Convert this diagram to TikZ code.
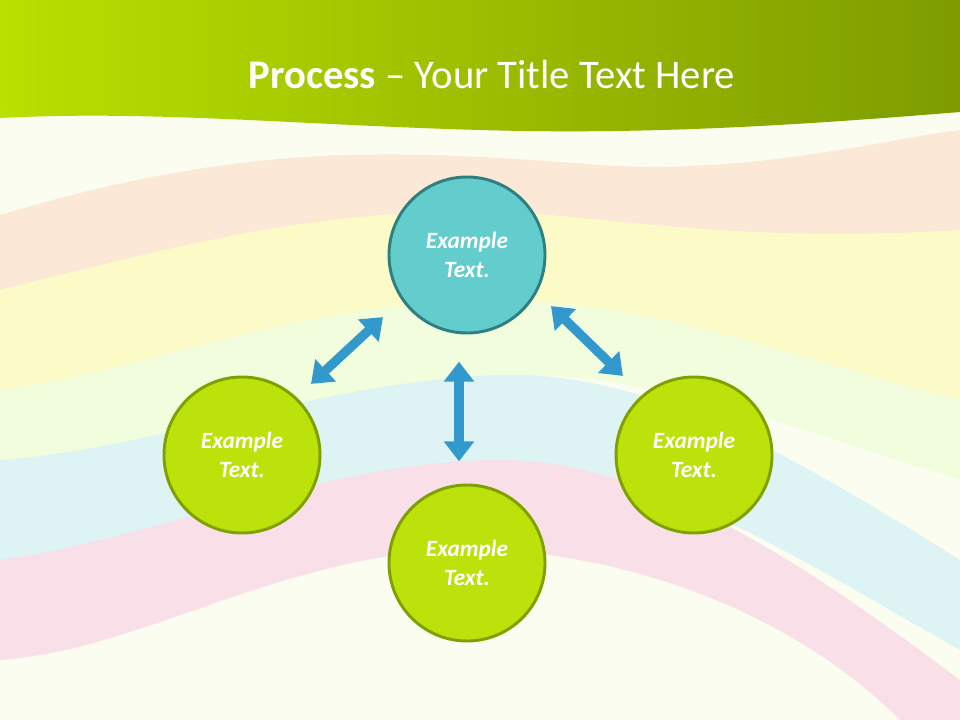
\documentclass[tikz,border=0pt]{standalone}
\usepackage{fontspec}
\setmainfont{Carlito}
\usetikzlibrary{arrows.meta}
\definecolor{bgc}{HTML}{FAFDF0}
\definecolor{gA}{HTML}{B8E000}
\definecolor{gB}{HTML}{7E9C00}
\definecolor{teal1}{HTML}{63CCCC}
\definecolor{teal2}{HTML}{2E7F80}
\definecolor{lime1}{HTML}{BBE20A}
\definecolor{lime2}{HTML}{7FA000}
\definecolor{arr}{HTML}{3399CC}
\begin{document}
\begin{tikzpicture}[x=0.75pt,y=-0.75pt,
  circ/.style={circle,minimum size=156*0.75pt,inner sep=0pt,line width=2.2pt,align=center,text=white,font=\fontsize{17.5}{22}\selectfont\bfseries\itshape},
  tealc/.style={circ,fill=teal1,draw=teal2},
  limec/.style={circ,fill=lime1,draw=lime2},
  dbl/.style={arr,line width=7pt,{Triangle[width=22pt,length=15pt]}-{Triangle[width=22pt,length=15pt]},shorten <=-1pt,shorten >=-1pt}]
\useasboundingbox (0,0) rectangle (960,720);
\fill[bgc] (0,0) rectangle (960,720);
% pastel bands
\fill[red!40!orange!30,opacity=0.4] (0,215) .. controls (250,140) and (400,150) .. (600,165) .. controls (750,175) and (880,140) .. (960,130) -- (960,230) .. controls (800,240) and (700,230) .. (550,215) .. controls (350,200) and (200,240) .. (0,290) -- cycle;
\fill[yellow!45,opacity=0.4] (0,290) .. controls (200,240) and (350,200) .. (550,215) .. controls (700,230) and (800,240) .. (960,230) -- (960,400) .. controls (800,360) and (650,300) .. (500,300) .. controls (300,300) and (150,370) .. (0,390) -- cycle;
\fill[green!40!yellow!25,opacity=0.4] (0,390) .. controls (150,370) and (300,300) .. (500,300) .. controls (650,300) and (800,360) .. (960,400) -- (960,480) .. controls (800,430) and (650,370) .. (500,375) .. controls (330,380) and (150,450) .. (0,460) -- cycle;
\fill[cyan!30,opacity=0.4] (0,460) .. controls (150,450) and (330,380) .. (500,375) .. controls (650,370) and (800,460) .. (960,560) -- (960,650) .. controls (800,560) and (650,460) .. (500,460) .. controls (330,460) and (150,540) .. (0,560) -- cycle;
\fill[magenta!30,opacity=0.4] (0,560) .. controls (150,540) and (330,460) .. (500,460) .. controls (650,460) and (800,560) .. (960,680) -- (960,720) -- (900,720) .. controls (800,620) and (650,560) .. (500,550) .. controls (300,540) and (150,650) .. (0,660) -- cycle;
% banner
\shade[left color=gA,right color=gB] (0,0) -- (960,0) -- (960,112) .. controls (800,125) and (650,135) .. (480,130) .. controls (300,125) and (150,110) .. (0,118) -- cycle;
\node[text=white,font=\fontsize{30.5}{36}\selectfont] (title) at (492,75) {\textbf{Process} – Your Title Text Here};
% circles
\node[tealc] (top) at (467,255) {Example\\Text.};
\node[limec] (left) at (242,455) {Example\\Text.};
\node[limec] (right) at (694,455) {Example\\Text.};
\node[limec] (bot) at (467,563) {Example\\Text.};
% arrows
\coordinate (a1) at (312,383); \coordinate (a2) at (382,318);
\coordinate (b1) at (552,307); \coordinate (b2) at (622,375);
\coordinate (c1) at (459,363); \coordinate (c2) at (459,460);
\draw[dbl] (a1) -- (a2);
\draw[dbl] (b1) -- (b2);
\draw[dbl] (c1) -- (c2);
\end{tikzpicture}
\end{document}
